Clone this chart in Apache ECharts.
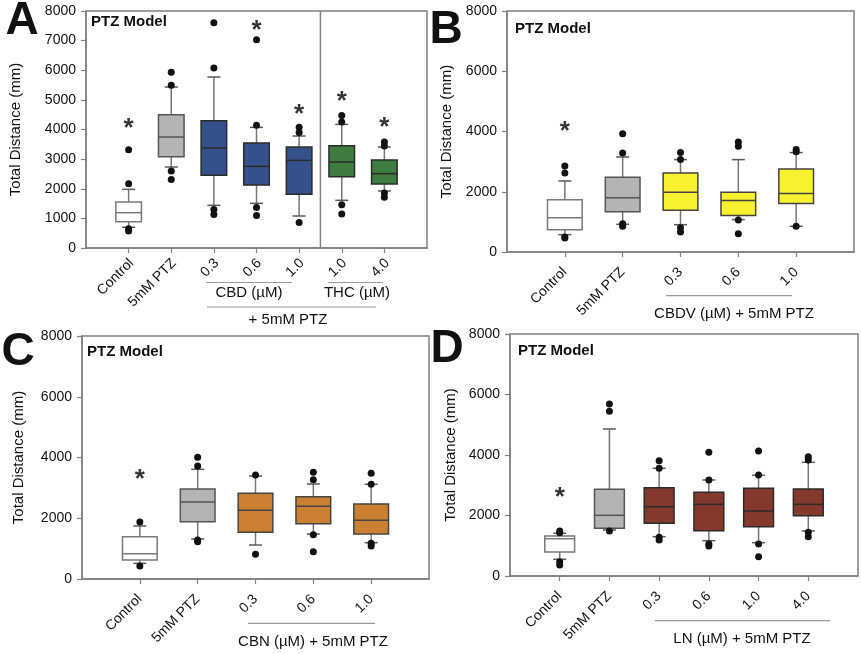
<!DOCTYPE html>
<html><head><meta charset="utf-8">
<script src="https://cdn.jsdelivr.net/npm/echarts@6/dist/echarts.min.js"></script>
<style>html,body{margin:0;padding:0;background:#fff}#c{width:861px;height:654px}</style>
</head><body><div id="c"></div><script>
// ---------- DATA ----------
// Panel A
const catsA = ['Control', '5mM PTZ', '0.3', '0.6', '1.0', '1.0', '4.0'];
const groupsA = ['ctrl', 'ptz', 'cbd', 'cbd', 'cbd', 'thc', 'thc'];
// [whisker low, Q1, median, Q3, whisker high]
const boxA = [
  [700, 889, 1192, 1552, 1980],
  [2734, 3082, 3746, 4499, 5433],
  [1441, 2452, 3375, 4297, 5771],
  [1507, 2126, 2756, 3543, 4072],
  [1080, 1811, 2958, 3408, 3780],
  [1609, 2407, 2902, 3453, 4173],
  [1924, 2160, 2508, 2970, 3408]
];
const outA = [
  [3320, 2170, 650, 570],
  [5930, 5490, 2600, 2310],
  [7600, 6080, 1296, 1127],
  [7030, 4140, 1370, 1100],
  [4080, 3900, 860],
  [4470, 4250, 1460, 1150],
  [3580, 3440, 1860, 1710]
];
const starA = [4230, null, null, 7550, 4690, 5150, 4260];

// Panel B
const catsB = ['Control', '5mM PTZ', '0.3', '0.6', '1.0'];
const groupsB = ['ctrl', 'ptz', 'cbdv', 'cbdv', 'cbdv'];
const boxB = [
  [575, 741, 1140, 1737, 2357],
  [918, 1339, 1804, 2479, 3154],
  [907, 1384, 1982, 2622, 3067],
  [1075, 1208, 1706, 1982, 3067],
  [853, 1607, 1939, 2755, 3300]
];
const outB = [
  [2855, 2622, 500, 465],
  [3928, 3286, 940, 852],
  [3300, 3070, 808, 664],
  [3651, 3509, 1060, 608],
  [3400, 3330, 853]
];
const starB = [4194, null, null, null, null];

// Panel C
const catsC = ['Control', '5mM PTZ', '0.3', '0.6', '1.0'];
const groupsC = ['ctrl', 'ptz', 'cbn', 'cbn', 'cbn'];
const boxC = [
  [516, 625, 834, 1394, 1745],
  [1317, 1887, 2535, 2963, 3611],
  [1119, 1537, 2261, 2821, 3391],
  [1481, 1821, 2393, 2710, 3128],
  [1196, 1481, 1932, 2469, 3118]
];
const outC = [
  [1877, 428],
  [4006, 3720, 1284, 1229],
  [3424, 812],
  [3512, 3270, 1460, 900],
  [3479, 3118, 1174, 1086]
];
const starC = [3457, null, null, null, null];

// Panel D
const catsD = ['Control', '5mM PTZ', '0.3', '0.6', '1.0', '4.0'];
const groupsD = ['ctrl', 'ptz', 'ln', 'ln', 'ln', 'ln'];
const boxD = [
  [552, 793, 1233, 1322, 1411],
  [1521, 1576, 2006, 2866, 4860],
  [1300, 1741, 2292, 2919, 3560],
  [1168, 1499, 2370, 2766, 3174],
  [1102, 1631, 2149, 2898, 3328],
  [1488, 1994, 2369, 2876, 3758]
];
const outD = [
  [1488, 1430, 473, 364],
  [5686, 5443, 1488],
  [3812, 3560, 1278, 1190],
  [4089, 3174, 1058, 992],
  [4132, 3339, 1058, 639],
  [3945, 3835, 1443, 1300]
];
const starD = [2788, null, null, null, null, null];

// ---------- STYLE ----------
const FONT = "'Liberation Sans', Arial, sans-serif";
const TXT = '#111111';
const AX = '#808080';
const boxStyle = {
  ctrl: { fill: '#ffffff', stroke: '#7a7a7a' },
  ptz:  { fill: '#b4b4b4', stroke: '#555555' },
  cbd:  { fill: '#35518b', stroke: '#2b2b2b' },
  thc:  { fill: '#3f7c3f', stroke: '#2b2b2b' },
  cbdv: { fill: '#f8f130', stroke: '#444444' },
  cbn:  { fill: '#cb7f30', stroke: '#444444' },
  ln:   { fill: '#85392d', stroke: '#2b2b2b' }
};

const panels = [
  { cats: catsA, groups: groupsA, box: boxA, out: outA, star: starA, interval: 1000,
    grid: { left: 86, top: 11, width: 341, height: 237 }, nameGap: 63, lblMargin: 6, lblPad: 3 },
  { cats: catsB, groups: groupsB, box: boxB, out: outB, star: starB, interval: 2000,
    grid: { left: 507, top: 11, width: 347, height: 241 }, nameGap: 53, lblMargin: 8, lblPad: 7 },
  { cats: catsC, groups: groupsC, box: boxC, out: outC, star: starC, interval: 2000,
    grid: { left: 82, top: 336, width: 347, height: 243 }, nameGap: 56, lblMargin: 8, lblPad: 7 },
  { cats: catsD, groups: groupsD, box: boxD, out: outD, star: starD, interval: 2000,
    grid: { left: 510, top: 334, width: 348, height: 242 }, nameGap: 52, lblMargin: 8, lblPad: 7 }
];

function makeBoxRender(groups) {
  return function (params, api) {
    const x = api.value(0);
    const pLo = api.coord([x, api.value(1)]);
    const pQ1 = api.coord([x, api.value(2)]);
    const pMd = api.coord([x, api.value(3)]);
    const pQ3 = api.coord([x, api.value(4)]);
    const pHi = api.coord([x, api.value(5)]);
    const band = api.size([1, 0])[0];
    const bw = band * 0.6;
    const cw = 13;
    const st = boxStyle[groups[params.dataIndex]];
    const cx = pMd[0];
    const wh = { stroke: '#777777', lineWidth: 1.5 };
    return {
      type: 'group',
      children: [
        { type: 'line', shape: { x1: cx, y1: pHi[1], x2: cx, y2: pQ3[1] }, style: wh },
        { type: 'line', shape: { x1: cx, y1: pQ1[1], x2: cx, y2: pLo[1] }, style: wh },
        { type: 'line', shape: { x1: cx - cw / 2, y1: pHi[1], x2: cx + cw / 2, y2: pHi[1] }, style: { stroke: '#5a5a5a', lineWidth: 1.5 } },
        { type: 'line', shape: { x1: cx - cw / 2, y1: pLo[1], x2: cx + cw / 2, y2: pLo[1] }, style: { stroke: '#5a5a5a', lineWidth: 1.5 } },
        { type: 'rect', shape: { x: cx - bw / 2, y: pQ3[1], width: bw, height: pQ1[1] - pQ3[1] },
          style: { fill: st.fill, stroke: st.stroke, lineWidth: 1.5 } },
        { type: 'line', shape: { x1: cx - bw / 2, y1: pMd[1], x2: cx + bw / 2, y2: pMd[1] },
          style: { stroke: st.stroke, lineWidth: 1.5 } }
      ]
    };
  };
}

const grids = [], xAxes = [], yAxes = [], series = [];
panels.forEach((p, i) => {
  const n = p.cats.length;
  grids.push(Object.assign({ show: true, borderColor: AX, borderWidth: 1.5, backgroundColor: '#fff' }, p.grid));
  xAxes.push({
    gridIndex: i, type: 'category', boundaryGap: false,
    data: [''].concat(p.cats, ['']),
    axisLine: { lineStyle: { color: AX, width: 1.5 } },
    axisTick: { interval: (idx) => idx > 0 && idx <= n, length: 5, lineStyle: { color: AX, width: 1.2 } },
    axisLabel: { interval: 0, rotate: 45, margin: p.lblMargin, verticalAlign: 'top', padding: [0, p.lblPad, 0, 0],
      fontSize: 14, color: TXT, fontFamily: FONT },
    splitLine: { show: false }
  });
  yAxes.push({
    gridIndex: i, type: 'value', min: 0, max: 8000, interval: p.interval,
    name: 'Total Distance (mm)', nameLocation: 'middle', nameGap: p.nameGap,
    nameTextStyle: { fontSize: 15, color: TXT, fontFamily: FONT },
    axisLine: { show: true, lineStyle: { color: AX, width: 1.5 } },
    axisTick: { show: true, length: 5, lineStyle: { color: AX, width: 1.2 } },
    axisLabel: { fontSize: 14, color: TXT, fontFamily: FONT, margin: 10, formatter: (v) => String(v) },
    splitLine: { show: false }
  });
  series.push({
    type: 'custom', xAxisIndex: i, yAxisIndex: i, z: 3,
    renderItem: makeBoxRender(p.groups),
    encode: { x: 0, y: [1, 2, 3, 4, 5] },
    data: p.box.map((b, k) => [k + 1].concat(b))
  });
  const pts = [];
  p.out.forEach((arr, k) => arr.forEach(v => pts.push([k + 1, v])));
  series.push({
    type: 'scatter', xAxisIndex: i, yAxisIndex: i, z: 5, symbolSize: 7,
    itemStyle: { color: '#111111', opacity: 1 }, data: pts, silent: true
  });
  const stars = [];
  p.star.forEach((v, k) => { if (v != null) stars.push([k + 1, v]); });
  series.push({
    type: 'scatter', xAxisIndex: i, yAxisIndex: i, z: 6, symbolSize: 1,
    itemStyle: { color: 'transparent' }, data: stars, silent: true,
    label: { show: true, formatter: '*', position: 'inside', fontSize: 26, fontWeight: 'bold',
      color: '#000000', fontFamily: FONT, offset: [0, 6] }
  });
});

// Separator line in panel A between CBD and THC groups (between categories 5 and 6)
series.push({
  type: 'custom', xAxisIndex: 0, yAxisIndex: 0, z: 2,
  encode: { x: [0, 1], y: [2, 3] },
  data: [[5, 6, 0, 8000]],
  renderItem: function (params, api) {
    const a = api.coord([api.value(0), api.value(2)]);
    const b = api.coord([api.value(1), api.value(3)]);
    const x = (a[0] + b[0]) / 2;
    return { type: 'line', shape: { x1: x, y1: a[1], x2: x, y2: b[1] }, style: { stroke: AX, lineWidth: 1.5 } };
  }
});

function txt(text, x, y, size, weight, align) {
  return { type: 'text', z: 10, style: { text, x, y, fontSize: size, fontWeight: weight || 'normal',
    fontFamily: FONT, fill: TXT, align: align || 'center', verticalAlign: 'middle' } };
}
function hline(x1, x2, y) {
  return { type: 'line', z: 10, shape: { x1, y1: y, x2, y2: y }, style: { stroke: '#9a9a9a', lineWidth: 1.2 } };
}

const graphic = [
  txt('A', 22, 21, 46, 'bold'),
  txt('B', 446, 30, 46, 'bold'),
  txt('C', 18, 352, 46, 'bold'),
  txt('D', 447, 349, 46, 'bold'),
  txt('PTZ Model', 91, 22, 15, 'bold', 'left'),
  txt('PTZ Model', 515, 29, 15, 'bold', 'left'),
  txt('PTZ Model', 87, 352, 15, 'bold', 'left'),
  txt('PTZ Model', 518, 351, 15, 'bold', 'left'),
  hline(206, 292, 282.5), hline(328, 383, 282.5), hline(207, 376, 307),
  txt('CBD (\u00B5M)', 249, 293, 15), txt('THC (\u00B5M)', 357, 293, 15), txt('+ 5mM PTZ', 288, 320, 15),
  hline(666, 792, 295.7), txt('CBDV (\u00B5M) + 5mM PTZ', 734, 314, 15),
  hline(248, 375, 623.3), txt('CBN (\u00B5M) + 5mM PTZ', 313, 642, 15),
  hline(655, 830, 620.7), txt('LN (\u00B5M) + 5mM PTZ', 742, 639, 15)
];

const chart = echarts.init(document.getElementById('c'), null, { renderer: 'canvas' });
chart.setOption({
  backgroundColor: '#ffffff',
  animation: false,
  grid: grids, xAxis: xAxes, yAxis: yAxes, series, graphic
});
</script></body></html>
